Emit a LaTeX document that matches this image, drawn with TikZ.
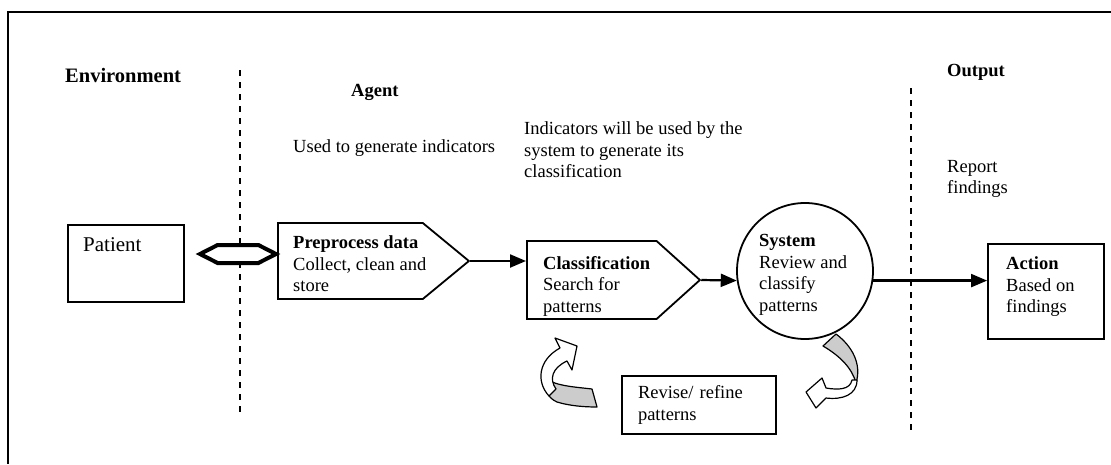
\documentclass[tikz,border=0pt]{standalone}
\usepackage{fontspec}
\setmainfont{Liberation Serif}
\usetikzlibrary{arrows.meta,shapes.symbols,positioning}

\definecolor{ribbon}{gray}{0.8}

\begin{document}
\begin{tikzpicture}[x=1pt,y=-1pt,>={Triangle[length=16pt,width=13pt]},
		lbl/.style={anchor=west,align=left,inner sep=0pt,font=\fontsize{18.5}{21.5}\selectfont},
		head/.style={lbl,font=\fontsize{18.5}{21.5}\selectfont\bfseries},
		border/.style={draw,line width=1.8pt,inner sep=0pt},
		stage/.style={border,signal,signal to=east},
		divider/.style={line width=1.4pt,dash pattern=on 6pt off 6pt},
		flow/.style={line width=2.2pt,->},
		turn/.style={draw,line width=1.2pt,line join=round}]
		\useasboundingbox (0,0) rectangle (1111,464);
		\draw[line width=2pt] (1111,12) -- (8,12) -- (8,464);
		\draw[divider] (240,70) -- (240,414);
		\draw[divider] (911,88) -- (911,430);

		\node[head,font=\fontsize{20.5}{24}\selectfont\bfseries] (environment) at (65,75) {Environment};
		\node[head] (agent) at (351,92) {Agent};
		\node[head] (output) at (947,72) {Output};
		\node[lbl] (usage) at (293,148) {Used to generate indicators};
		\node[lbl] (note) at (524,150) {Indicators will be used by the\\system to generate its\\classification};
		\node[lbl] (report) at (947,179) {Report\\findings};

		\node[border,minimum width=116pt,minimum height=77pt,anchor=north west] (patient) at (67,224) {};
		\node[lbl,font=\fontsize{21}{24}\selectfont] (patient label) at (83,245) {Patient};
		\node[draw,line width=4pt,fill=white,signal,signal to=east and west,signal pointer angle=54,
			minimum width=76pt,minimum height=18pt,inner sep=0pt] (link) at (238,254) {};

		\node[stage,signal pointer angle=79,minimum width=191pt,minimum height=76pt,anchor=west] (pre) at (277,261) {};
		\node[lbl] (pre label) at (293,264) {\textbf{Preprocess data}\\Collect, clean and\\store};
		\node[stage,signal pointer angle=84,minimum width=173pt,minimum height=78pt,anchor=west] (class) at (526,280) {};
		\node[lbl] (class label) at (543,286) {\textbf{Classification}\\Search for\\patterns};
		\node[border,circle,minimum size=136pt] (system) at (805,271) {};
		\node[lbl] (system label) at (759,275) {\textbf{System}\\Review and\\classify\\patterns};
		\node[border,minimum width=116pt,minimum height=95pt] (action) at (1046,291.5) {};
		\node[lbl] (action label) at (1006,287) {\textbf{Action}\\Based on\\findings};
		\node[border,minimum width=154pt,minimum height=58pt,text width=122pt,align=left,
			font=\fontsize{18.5}{21.5}\selectfont] (revise) at (699,405) {Revise/ refine\\patterns};

		\draw[flow] (pre.east) -- (pre.east -| class.west);
		\draw[flow] (class.east) -- (system.188);
		\draw[flow] (system.-8) -- (system.-8 -| action.west);

		\draw[turn,fill=ribbon] (592,389) .. controls (575,387) and (557,386) .. (546,379)
			.. controls (544,390) and (548,398) .. (557,402) .. controls (570,406) and (585,407) .. (597,407) -- cycle;
		\draw[turn,fill=white] (549,396) .. controls (536,382) and (538,360) .. (560,348) -- (555,338) -- (577,346)
			-- (572,370) -- (567,361) .. controls (552,368) and (549,379) .. (556,389) -- cycle;
		\draw[turn,fill=ribbon] (823,346) -- (836,334) .. controls (852,346) and (862,364) .. (856,383)
			.. controls (852,368) and (840,356) .. (823,346) -- cycle;
		\draw[turn,fill=white] (857,380) .. controls (857,395) and (842,400) .. (826,398) -- (816,408) -- (806,392)
			-- (822,378) -- (826,388) .. controls (838,390) and (850,390) .. (852,380) -- cycle;
	\end{tikzpicture}
\end{document}
